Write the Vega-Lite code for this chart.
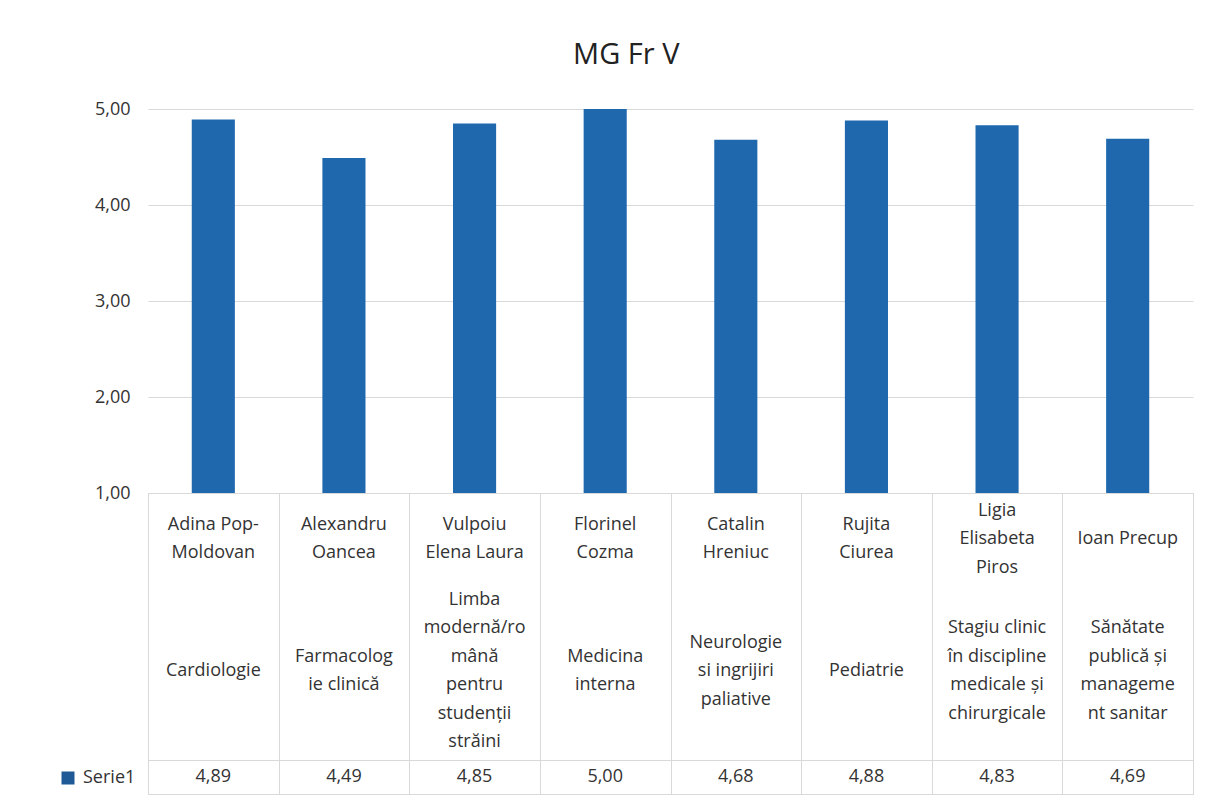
{
  "$schema": "https://vega.github.io/schema/vega-lite/v6.json",
  "padding": {"left": 59, "top": 41, "right": 10, "bottom": 5},
  "background": "white",
  "title": {"text": "MG Fr V", "fontSize": 29, "fontWeight": "normal", "color": "#222222", "anchor": "middle", "offset": 30},
  "datasets": {
    "tabel": [
      {"nume": "Adina Pop-Moldovan", "eticheta_nume": "Adina Pop-\nMoldovan", "eticheta_disc": "Cardiologie", "serie": "Serie1", "valoare": 4.89},
      {"nume": "Alexandru Oancea", "eticheta_nume": "Alexandru\nOancea", "eticheta_disc": "Farmacolog\nie clinică", "serie": "Serie1", "valoare": 4.49},
      {"nume": "Vulpoiu Elena Laura", "eticheta_nume": "Vulpoiu\nElena Laura", "eticheta_disc": "Limba\nmodernă/ro\nmână\npentru\nstudenții\nstrăini", "serie": "Serie1", "valoare": 4.85},
      {"nume": "Florinel Cozma", "eticheta_nume": "Florinel\nCozma", "eticheta_disc": "Medicina\ninterna", "serie": "Serie1", "valoare": 5.00},
      {"nume": "Catalin Hreniuc", "eticheta_nume": "Catalin\nHreniuc", "eticheta_disc": "Neurologie\nsi ingrijiri\npaliative", "serie": "Serie1", "valoare": 4.68},
      {"nume": "Rujita Ciurea", "eticheta_nume": "Rujita\nCiurea", "eticheta_disc": "Pediatrie", "serie": "Serie1", "valoare": 4.88},
      {"nume": "Ligia Elisabeta Piros", "eticheta_nume": "Ligia\nElisabeta\nPiros", "eticheta_disc": "Stagiu clinic\nîn discipline\nmedicale și\nchirurgicale", "serie": "Serie1", "valoare": 4.83},
      {"nume": "Ioan Precup", "eticheta_nume": "Ioan Precup", "eticheta_disc": "Sănătate\npublică și\nmanageme\nnt sanitar", "serie": "Serie1", "valoare": 4.69}
    ]
  },
  "spacing": 0,
  "bounds": "flush",
  "vconcat": [
    {
      "width": 1045,
      "height": 384,
      "view": {"stroke": null},
      "data": {"name": "tabel"},
      "mark": {"type": "bar", "color": "#1f68ad"},
      "encoding": {
        "x": {"field": "nume", "type": "nominal", "sort": null, "axis": null,
              "scale": {"paddingInner": 0.67, "paddingOuter": 0.335}},
        "y": {"field": "valoare", "type": "quantitative",
              "scale": {"domain": [1, 5], "nice": false, "zero": false},
              "axis": {"title": null, "values": [1, 2, 3, 4, 5], "format": ".2f", "ticks": false, "domain": false,
                       "grid": true, "gridColor": "#d9d9d9", "labelPadding": 18}},
        "y2": {"datum": 1}
      }
    },
    {
      "width": 1045,
      "height": 267,
      "view": {"stroke": "#d9d9d9"},
      "data": {"name": "tabel"},
      "transform": [{"fold": ["eticheta_nume", "eticheta_disc"], "as": ["parte", "text"]}],
      "encoding": {
        "x": {"field": "nume", "type": "nominal", "sort": null,
              "scale": {"paddingInner": 0, "paddingOuter": 0,
                        "domain": ["Adina Pop-Moldovan", "Alexandru Oancea", "Vulpoiu Elena Laura", "Florinel Cozma", "Catalin Hreniuc", "Rujita Ciurea", "Ligia Elisabeta Piros", "Ioan Precup"]},
              "axis": {"title": null, "labels": false, "ticks": false, "domain": false, "grid": true, "tickBand": "extent", "gridColor": "#d9d9d9"}},
        "y": {"field": "parte", "type": "nominal", "axis": null,
              "scale": {"type": "point", "domain": ["eticheta_nume", "eticheta_disc"], "padding": 0.511, "align": 0.341}},
        "text": {"field": "text"}
      },
      "layer": [
        {
          "transform": [{"filter": "split(datum.text, '\\n').length == 1"}],
          "mark": {"type": "text", "lineBreak": "\n", "lineHeight": 28.5, "fontSize": 18, "color": "#333333", "baseline": "middle", "align": "center", "dy": 0}
        },
        {
          "transform": [{"filter": "split(datum.text, '\\n').length == 2"}],
          "mark": {"type": "text", "lineBreak": "\n", "lineHeight": 28.5, "fontSize": 18, "color": "#333333", "baseline": "middle", "align": "center", "dy": -14.25}
        },
        {
          "transform": [{"filter": "split(datum.text, '\\n').length == 3"}],
          "mark": {"type": "text", "lineBreak": "\n", "lineHeight": 28.5, "fontSize": 18, "color": "#333333", "baseline": "middle", "align": "center", "dy": -28.5}
        },
        {
          "transform": [{"filter": "split(datum.text, '\\n').length == 4"}],
          "mark": {"type": "text", "lineBreak": "\n", "lineHeight": 28.5, "fontSize": 18, "color": "#333333", "baseline": "middle", "align": "center", "dy": -42.75}
        },
        {
          "transform": [{"filter": "split(datum.text, '\\n').length == 6"}],
          "mark": {"type": "text", "lineBreak": "\n", "lineHeight": 28.5, "fontSize": 18, "color": "#333333", "baseline": "middle", "align": "center", "dy": -71.25}
        }
      ]
    },
    {
      "width": 1045,
      "height": 34,
      "view": {"stroke": "#d9d9d9"},
      "data": {"name": "tabel"},
      "layer": [
        {
          "mark": {"type": "point", "shape": "square", "filled": true, "opacity": 0},
          "encoding": {
            "x": {"field": "nume", "type": "nominal", "sort": null,
                  "scale": {"paddingInner": 0, "paddingOuter": 0},
                  "axis": {"title": null, "labels": false, "ticks": false, "domain": false, "grid": true, "tickBand": "extent", "gridColor": "#d9d9d9"}},
            "color": {"field": "serie", "type": "nominal", "scale": {"range": ["#1f5a96"]},
                      "legend": {"title": null, "orient": "none", "legendX": -89, "legendY": 660, "symbolType": "square", "symbolSize": 169,
                                 "symbolOpacity": 1, "labelFontSize": 18, "labelColor": "#333333", "labelOffset": 6, "padding": 0}}
          }
        },
        {
          "mark": {"type": "text", "fontSize": 18, "color": "#333333", "baseline": "middle", "align": "center"},
          "encoding": {
            "x": {"field": "nume", "type": "nominal", "sort": null},
            "text": {"field": "valoare", "type": "quantitative", "format": ".2f"}
          }
        }
      ]
    }
  ],
  "config": {
    "font": "Open Sans",
    "locale": {"number": {"decimal": ",", "thousands": ".", "grouping": [3], "currency": ["", " lei"]}},
    "axis": {"labelFont": "Open Sans", "labelFontSize": 18, "labelColor": "#333333"},
    "legend": {"labelFont": "Open Sans"}
  }
}
